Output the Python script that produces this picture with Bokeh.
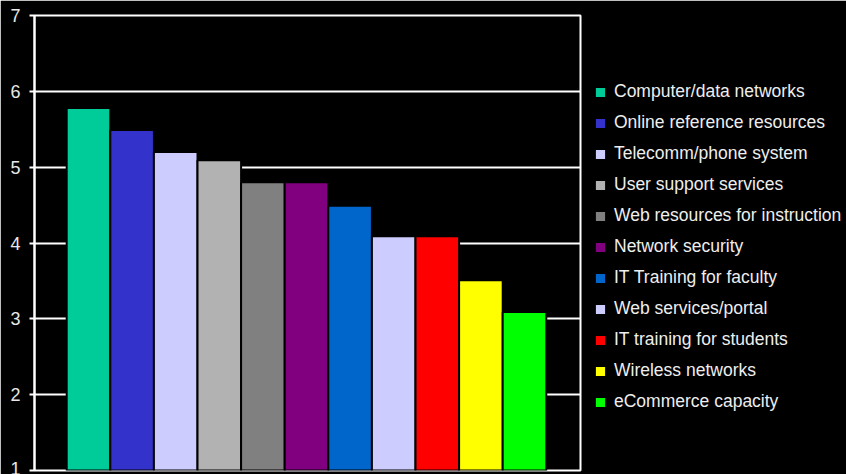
from bokeh.plotting import figure
from bokeh.models import ColumnDataSource, Range1d, FixedTicker, Legend, LegendItem
from bokeh.embed import file_html
from bokeh.resources import INLINE

categories = [
    "Computer/data networks",
    "Online reference resources",
    "Telecomm/phone system",
    "User support services",
    "Web resources for instruction",
    "Network security",
    "IT Training for faculty",
    "Web services/portal",
    "IT training for students",
    "Wireless networks",
    "eCommerce capacity",
]
values = [5.78, 5.49, 5.20, 5.09, 4.80, 4.80, 4.49, 4.09, 4.09, 3.51, 3.09]
colors = ["#00CC99", "#3333CC", "#CCCCFF", "#B2B2B2", "#808080", "#800080",
          "#0066CC", "#CCCCFF", "#FF0000", "#FFFF00", "#00FF00"]
y_ticks = [1, 2, 3, 4, 5, 6, 7]

src = ColumnDataSource(dict(x=list(range(len(categories))), top=values,
                            color=colors, label=categories))

frame_w, frame_h = 546, 455
unit = 43.6
x0 = -54 / unit
p = figure(frame_width=frame_w, frame_height=frame_h,
           output_backend="svg", toolbar_location=None,
           x_range=Range1d(x0, x0 + frame_w / unit), y_range=Range1d(1, 7),
           min_border_left=34, min_border_right=0,
           min_border_top=15, min_border_bottom=4,
           background_fill_color="black", border_fill_color="black",
           outline_line_color="white", outline_line_width=2)

r = p.vbar(x="x", top="top", bottom=1, width=1.0, source=src,
           fill_color="color", line_color="black", line_width=2)

p.xaxis.visible = False
p.xgrid.visible = False
p.ygrid.ticker = FixedTicker(ticks=y_ticks)
p.ygrid.grid_line_color = "white"
p.ygrid.grid_line_width = 2

ax = p.yaxis[0]
ax.ticker = FixedTicker(ticks=y_ticks)
ax.axis_line_color = "white"
ax.axis_line_width = 2
ax.major_tick_line_color = "white"
ax.major_tick_line_width = 2
ax.major_tick_out = 5
ax.major_tick_in = 0
ax.minor_tick_line_color = None
ax.major_label_text_color = "#e8e8e8"
ax.major_label_text_font = "Liberation Sans"
ax.major_label_text_font_size = "18px"
ax.major_label_standoff = 9

items = [LegendItem(label=c, renderers=[r], index=i) for i, c in enumerate(categories)]
legend = Legend(items=items, location=(13, 57),
                glyph_width=14, glyph_height=14, label_standoff=7,
                label_height=23, spacing=8, padding=0, margin=0,
                border_line_alpha=0, background_fill_alpha=0,
                label_text_color="#eeeeee", label_text_font="Liberation Sans",
                label_text_font_size="17.5px")
p.add_layout(legend, "right")

open("out.html", "w").write(file_html(p, INLINE))
